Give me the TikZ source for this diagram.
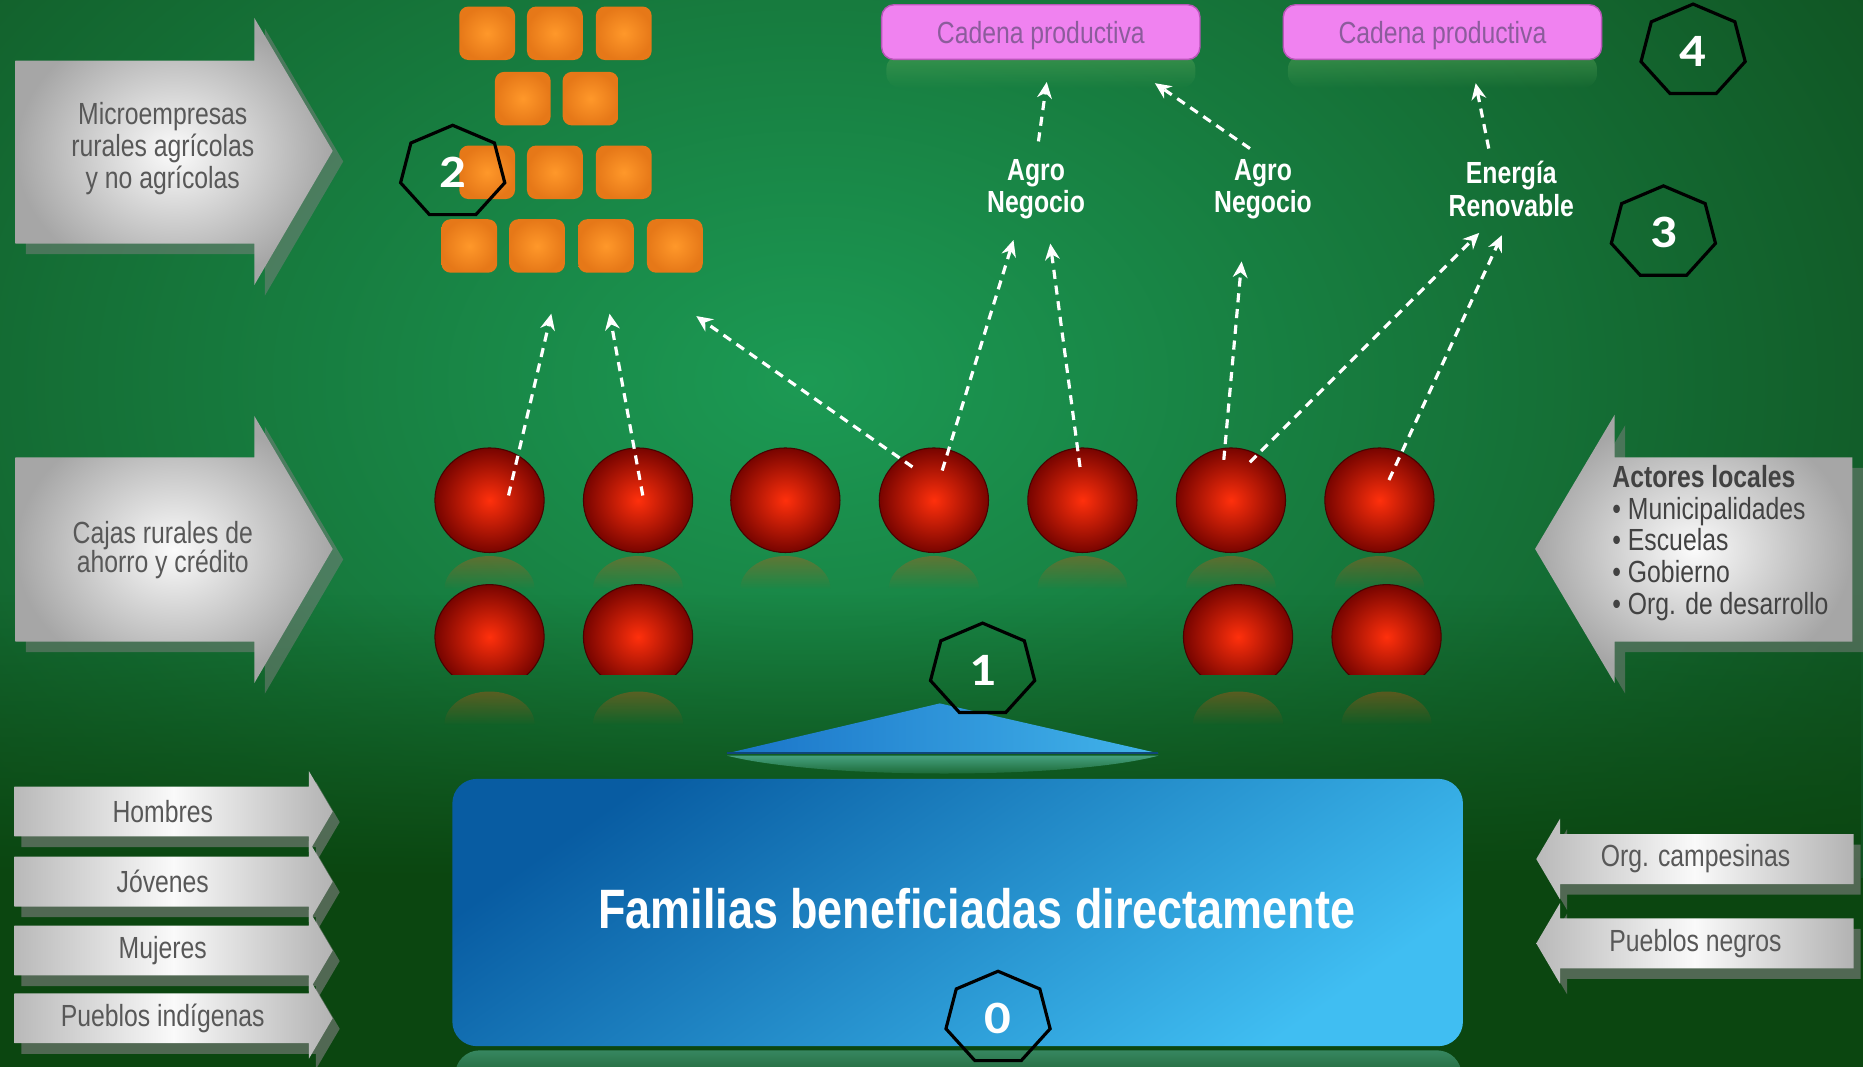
\documentclass[tikz,border=0pt]{standalone}
\usepackage{fontspec}
\setmainfont{Liberation Sans}
\newfontfamily\slim[FakeStretch=0.81]{Liberation Sans}
\newfontfamily\digits{Carlito}
\usetikzlibrary{shapes.geometric,calc,arrows.meta,fadings,shadows}

\definecolor{bgdark}{RGB}{13,66,22}
\definecolor{bglight}{RGB}{28,154,84}
\definecolor{bgbottom}{RGB}{11,70,16}
\definecolor{greytext}{RGB}{88,88,88}
\definecolor{darktext}{RGB}{66,66,66}
\definecolor{cadfill}{RGB}{240,130,240}
\definecolor{caddraw}{RGB}{185,85,185}
\definecolor{cadtext}{RGB}{140,92,156}
\definecolor{famtop}{RGB}{8,92,162}
\definecolor{fambot}{RGB}{64,190,242}
\definecolor{triL}{RGB}{26,116,200}
\definecolor{triR}{RGB}{66,180,234}
\definecolor{tilein}{RGB}{255,152,42}
\definecolor{tileout}{RGB}{230,120,24}
\definecolor{ballin}{RGB}{255,48,12}
\definecolor{ballout}{RGB}{120,4,0}
\definecolor{mirror}{RGB}{84,178,150}

\def\pix{0.011882cm}

\begin{document}
\begin{tikzpicture}[x=\pix, y=-\pix]

                \tikzstyle{bigArrow}   = [inner color=white!97!gray, outer color=gray!70, drop shadow={opacity=0.5, shadow xshift=3pt, shadow yshift=-3pt}]
                \tikzstyle{smallArrow} = [left color=gray!55, right color=gray!60, middle color=white!96!gray, drop shadow={opacity=0.6, shadow xshift=2pt, shadow yshift=-3pt}]
                \tikzstyle{greyLabel}  = [inner sep=0pt, align=center, text=greytext, font=\slim\fontsize{8.7}{8.1}\selectfont]
                \tikzstyle{whiteLabel} = [inner sep=0pt, align=center, text=white, font=\slim\bfseries\fontsize{8.7}{8.1}\selectfont]
                \tikzstyle{tile}       = [rectangle, rounded corners=2.6pt, minimum width=0.558cm, minimum height=0.535cm, inner sep=0pt, inner color=tilein, outer color=tileout]
                \tikzstyle{sphere}     = [ellipse, minimum width=1.093cm, minimum height=1.046cm, inner sep=0pt, draw=ballout!60!black, line width=0.3pt, inner color=ballin, outer color=ballout]
                \tikzstyle{chainBox}   = [rectangle, rounded corners=3.5pt, minimum width=3.184cm, minimum height=0.547cm, inner sep=0pt, text height=8.3pt, text depth=1.8pt, fill=cadfill, draw=caddraw, line width=0.4pt, text=cadtext, font=\slim\fontsize{8.7}{8.1}\selectfont]
                \tikzstyle{famBox}     = [rectangle, rounded corners=7pt, minimum width=10.11cm, minimum height=2.674cm, inner sep=0pt, top color=famtop, bottom color=fambot, shading angle=35]
                \tikzstyle{flow}       = [white, line width=0.9pt, dash pattern=on 2.6pt off 1.9pt, -{Stealth[length=4.6pt, width=4.2pt]}]
                \tikzstyle{stageMark}  = [regular polygon, regular polygon sides=7, minimum size=1.069cm, inner sep=0pt, draw=black, line width=0.9pt, text=white, font=\digits\bfseries\fontsize{15}{15}\selectfont, yscale=0.88, transform shape]

                \useasboundingbox (0,0) rectangle (1568,898);
                \clip (0,0) rectangle (1568,898);
                \fill[bgdark] (0,0) rectangle (1568,898);
                \shade[inner color=bglight, outer color=bgdark] (680,320) ellipse [x radius=1300, y radius=900];
                \fill[bgbottom, path fading=north] (0,500) rectangle (1568,740);
                \fill[bgbottom] (0,739) rectangle (1568,898);

                \shade[bigArrow] (13,51) -- (214,51) -- (214,15) -- (280,127) -- (214,240) -- (214,205) -- (13,205) -- cycle;
                \shade[bigArrow] (13,385) -- (214,385) -- (214,350) -- (280,462) -- (214,575) -- (214,540) -- (13,540) -- cycle;
                \shade[bigArrow] (1559,385) -- (1359,385) -- (1359,349) -- (1292,462) -- (1359,575) -- (1359,540) -- (1559,540) -- cycle;
                \node[greyLabel] (micro) at (137,125) {Microempresas\\rurales agrícolas\\y no agrícolas};
                \node[greyLabel, font=\slim\fontsize{8.7}{8.4}\selectfont] (cajas) at (137,463) {Cajas rurales de\\ahorro y crédito};
                \node[greyLabel, align=left, text=darktext, font=\slim\fontsize{8.7}{9.05}\selectfont] (actores) at (1448,457)
                        {{\bfseries Actores locales}\\\textbullet\ Municipalidades\\\textbullet\ Escuelas\\\textbullet\ Gobierno\\\textbullet\ Org. de desarrollo};

                \foreach \y/\txt/\nm in {683/Hombres/hom, 742/Jóvenes/jov, 800/Mujeres/muj, 857/Pueblos indígenas/pind} {
                        \shade[smallArrow] (12,\y-21) -- (260,\y-21) -- (260,\y-34) -- (280,\y) -- (260,\y+34) -- (260,\y+21) -- (12,\y+21) -- cycle;
                        \node[greyLabel] (\nm) at (137,\y) {\txt};
                }
                \foreach \y/\txt/\nm in {723/Org. campesinas/orgc, 794/Pueblos negros/pneg} {
                        \shade[smallArrow] (1560,\y-21) -- (1313,\y-21) -- (1313,\y-34) -- (1293,\y) -- (1313,\y+34) -- (1313,\y+21) -- (1560,\y+21) -- cycle;
                        \node[greyLabel] (\nm) at (1427,\y) {\txt};
                }

                \fill[gray!70!green, opacity=0.5, path fading=south, rounded corners=4pt] (746,46) rectangle (1006,74);
                \fill[gray!70!green, opacity=0.5, path fading=south, rounded corners=4pt] (1084,46) rectangle (1344,74);
                \node[chainBox] (cad1) at (876,27) {Cadena productiva};
                \node[chainBox] (cad2) at (1214,27) {Cadena productiva};

                \foreach \x/\y [count=\i] in {410/28, 467/28, 525/28, 440/83, 497/83, 410/145, 467/145, 525/145, 395/207, 452/207, 510/207, 568/207}
                        \node[tile] (m\i) at (\x,\y) {};

                \foreach \x [count=\i] in {412,537,661,786,911,1036,1161} {
                        \fill[ballin!70!orange, opacity=0.3, path fading=south] (\x-38,496) arc[start angle=180, end angle=360, x radius=38, y radius=28] -- cycle;
                        \node[sphere] (c\i) at (\x,421) {};
                }
                \foreach \x in {412,537,1042,1167}
                        \fill[ballin!70!orange, opacity=0.3, path fading=south] (\x-38,610) arc[start angle=180, end angle=360, x radius=38, y radius=28] -- cycle;
                \begin{scope}
                        \clip (300,470) rectangle (1300,568);
                        \foreach \x [count=\i] in {412,537,1042,1167}
                                \node[sphere] (d\i) at (\x,536) {};
                \end{scope}

                \fill[mirror, opacity=0.8, path fading=south] (612,636) -- (975,636) .. controls (900,656) and (690,656) .. (612,636) -- cycle;
                \shade[left color=triL, right color=triR] (612,634) -- (791,592) -- (975,634) -- cycle;
                \draw[triL!60!black, line width=0.5pt] (612,634) -- (975,634);

                \fill[mirror, opacity=0.6, path fading=south, rounded corners=7pt] (383,884) rectangle (1230,930);
                \node[famBox] (fam) at (806,768) {};
                \node[whiteLabel, font=\slim\bfseries\fontsize{15.8}{16}\selectfont] (famtxt) at (822,765) {Familias beneficiadas directamente};

                \node[whiteLabel] (ag1) at (872,159) {Agro\\Negocio};
                \node[whiteLabel] (ag2) at (1063,159) {Agro\\Negocio};
                \node[whiteLabel] (er) at (1272,159) {Energía\\Renovable};

                \coordinate (t1) at (464,264);
                \coordinate (t2) at (513,264);
                \coordinate (t3) at (586,266);
                \coordinate (t4) at (853,202);
                \coordinate (t5) at (884,205);
                \coordinate (t6) at (1045,220);
                \coordinate (t7) at (1245,196);
                \coordinate (t8) at (1264,198);
                \coordinate (t9) at (881,69);
                \coordinate (t10) at (972,70);
                \coordinate (t11) at (1242,70);
                \draw[flow] ($(c1)+(16,-4)$) -- (t1);
                \draw[flow] ($(c2)+(4,-4)$) -- (t2);
                \draw[flow] ($(c4)+(-18,-28)$) -- (t3);
                \draw[flow] ($(c4)+(7,-25)$) -- (t4);
                \draw[flow] ($(c5)+(-2,-28)$) -- (t5);
                \draw[flow] ($(c6)+(-6,-34)$) -- (t6);
                \draw[flow] ($(c6)+(16,-32)$) -- (t7);
                \draw[flow] ($(c7)+(8,-17)$) -- (t8);
                \draw[flow] ($(ag1)+(2,-40)$) -- (t9);
                \draw[flow] ($(ag2)+(-11,-34)$) -- (t10);
                \draw[flow] ($(er)+(-19,-34)$) -- (t11);

                \node[stageMark] (lvl0) at (840,857) {0};
                \node[stageMark] (lvl1) at (827,564) {1};
                \node[stageMark] (lvl2) at (381,145) {2};
                \node[stageMark] (lvl3) at (1400,196) {3};
                \node[stageMark] (lvl4) at (1425,43) {4};
\end{tikzpicture}
\end{document}
